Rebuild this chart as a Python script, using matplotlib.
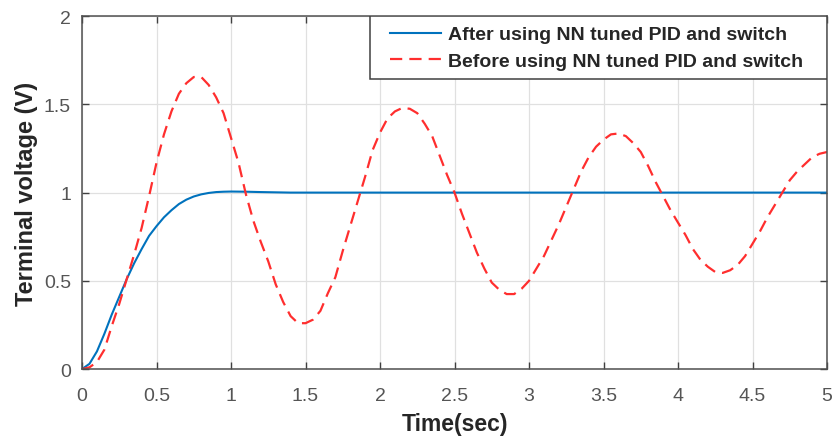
import matplotlib.pyplot as plt
from matplotlib.patches import Rectangle

# time axes (sec) and read-off voltages
t_red = [0.00, 0.05, 0.10, 0.15, 0.20, 0.25, 0.30, 0.35, 0.40, 0.45,
         0.50, 0.55, 0.60, 0.65, 0.70, 0.75, 0.80, 0.85, 0.90, 0.95,
         1.00, 1.05, 1.10, 1.15, 1.20, 1.25, 1.30, 1.35, 1.40, 1.45,
         1.50, 1.55, 1.60, 1.65, 1.70, 1.75, 1.80, 1.85, 1.90, 1.95,
         2.00, 2.05, 2.10, 2.15, 2.20, 2.25, 2.30, 2.35, 2.40, 2.45,
         2.50, 2.55, 2.60, 2.65, 2.70, 2.75, 2.80, 2.85, 2.90, 2.95,
         3.00, 3.05, 3.10, 3.15, 3.20, 3.25, 3.30, 3.35, 3.40, 3.45,
         3.50, 3.55, 3.60, 3.65, 3.70, 3.75, 3.80, 3.85, 3.90, 3.95,
         4.00, 4.05, 4.10, 4.15, 4.20, 4.25, 4.30, 4.35, 4.40, 4.45,
         4.50, 4.55, 4.60, 4.65, 4.70, 4.75, 4.80, 4.85, 4.90, 4.95, 5.00]
v_before = [0.00, 0.01, 0.04, 0.11, 0.245, 0.37, 0.51, 0.65, 0.80, 0.98,
            1.17, 1.33, 1.46, 1.56, 1.62, 1.655, 1.655, 1.61, 1.54, 1.45,
            1.31, 1.17, 0.99, 0.84, 0.72, 0.61, 0.48, 0.38, 0.30, 0.26,
            0.26, 0.28, 0.33, 0.43, 0.52, 0.67, 0.81, 0.95, 1.09, 1.24,
            1.34, 1.42, 1.46, 1.48, 1.475, 1.45, 1.39, 1.32, 1.21, 1.10,
            1.00, 0.88, 0.77, 0.66, 0.57, 0.49, 0.45, 0.425, 0.425, 0.455,
            0.50, 0.57, 0.64, 0.73, 0.82, 0.92, 1.02, 1.12, 1.20, 1.26,
            1.30, 1.33, 1.335, 1.32, 1.28, 1.23, 1.15, 1.06, 0.98, 0.90,
            0.83, 0.76, 0.68, 0.62, 0.58, 0.55, 0.545, 0.56, 0.59, 0.64,
            0.71, 0.78, 0.86, 0.93, 1.00, 1.07, 1.12, 1.16, 1.20, 1.22, 1.23]

t_blue = [0.00, 0.05, 0.10, 0.15, 0.20, 0.25, 0.30, 0.35, 0.40, 0.45,
          0.50, 0.55, 0.60, 0.65, 0.70, 0.75, 0.80, 0.85, 0.90, 0.95,
          1.00, 1.10, 1.20, 1.40, 2.00, 3.00, 4.00, 5.00]
v_after = [0.00, 0.03, 0.10, 0.20, 0.31, 0.41, 0.51, 0.60, 0.68, 0.755,
           0.81, 0.86, 0.90, 0.935, 0.96, 0.978, 0.99, 0.998, 1.003, 1.005,
           1.006, 1.005, 1.003, 1.000, 1.000, 1.000, 1.000, 1.000]

x_ticks = [0, 0.5, 1, 1.5, 2, 2.5, 3, 3.5, 4, 4.5, 5]
x_labels = ["0", "0.5", "1", "1.5", "2", "2.5", "3", "3.5", "4", "4.5", "5"]
y_ticks = [0, 0.5, 1, 1.5, 2]
y_labels = ["0", "0.5", "1", "1.5", "2"]

plt.rcParams['font.family'] = ['Liberation Sans', 'DejaVu Sans']

fig = plt.figure(figsize=(8.32, 4.39), dpi=100)
ax = fig.add_axes([0.0986, 0.157, 0.8954, 0.804])

ax.plot(t_blue, v_after, color='#0072BD', lw=1.5,
        label='After using NN tuned PID and switch')
ax.plot(t_red, v_before, color='#FF2E2E', lw=1.6, dashes=(5.5, 3.2),
        label='Before using NN tuned PID and switch')

ax.set_xlim(0, 5)
ax.set_ylim(0, 2)
ax.set_xticks(x_ticks)
ax.set_xticklabels(x_labels)
ax.set_yticks(y_ticks)
ax.set_yticklabels(y_labels)
ax.grid(True, color='#e0e0e0', lw=0.9)
ax.set_axisbelow(True)

ax.tick_params(direction='in', length=5, width=1, colors='#404040',
               labelcolor='#555555', labelsize=14, top=True, right=True)
ax.tick_params(axis='x', pad=13)
ax.tick_params(axis='y', pad=8)
for s in ax.spines.values():
    s.set_color('#505050')
    s.set_linewidth(1.1)

ax.set_xlabel('Time(sec)', fontsize=16.5, fontweight='bold', color='#262626', labelpad=6)
ax.set_ylabel('Terminal voltage (V)', fontsize=17, fontweight='bold', color='#262626', labelpad=4)

# legend box (MATLAB style, extra padding on the left)
ax.add_patch(Rectangle((0.3866, 0.821), 0.6134, 0.179, transform=ax.transAxes,
                       facecolor='white', edgecolor='#404040', lw=1.1, zorder=4))
leg = ax.legend(loc='upper left', bbox_to_anchor=(0.401, 1.0),
                fontsize=14, frameon=False, borderaxespad=0,
                handlelength=2.6, borderpad=0.5,
                labelspacing=0.45, handletextpad=0.35)
leg.set_zorder(5)
for txt in leg.get_texts():
    txt.set_fontweight('bold')
    txt.set_color('#262626')

fig.savefig('out.png', dpi=100)
